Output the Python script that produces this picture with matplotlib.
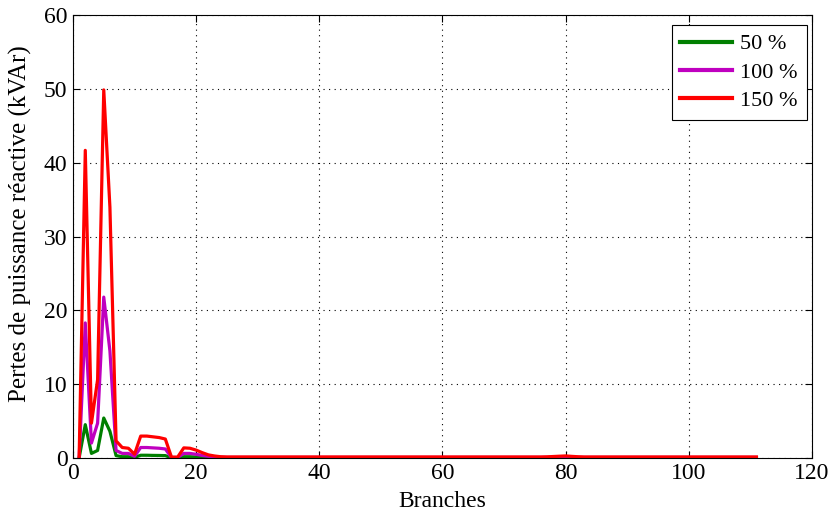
import matplotlib
matplotlib.use("Agg")
import matplotlib.pyplot as plt

plt.rcParams['font.family'] = ['Liberation Serif', 'DejaVu Serif']

# Reactive power losses per branch for three loading levels (kVAr)
loss_50 = [0.0, 4.5, 0.6, 1.0, 5.4, 3.6, 0.3, 0.15, 0.15, 0.05,
           0.35, 0.35, 0.33, 0.32, 0.3, 0.0, 0.0, 0.15, 0.15, 0.12,
           0.08, 0.05, 0.03, 0.02, 0.02, 0.02, 0.02, 0.02, 0.02, 0.02,
           0.02, 0.02, 0.02, 0.02, 0.02, 0.02, 0.02, 0.02, 0.02, 0.02,
           0.02, 0.02, 0.02, 0.02, 0.02, 0.02, 0.02, 0.02, 0.02, 0.02,
           0.02, 0.02, 0.02, 0.02, 0.02, 0.02, 0.02, 0.02, 0.02, 0.02,
           0.02, 0.02, 0.02, 0.02, 0.02, 0.02, 0.02, 0.02, 0.02, 0.02,
           0.02, 0.02, 0.02, 0.02, 0.02, 0.02, 0.02, 0.03, 0.04, 0.05,
           0.04, 0.03, 0.02, 0.02, 0.02, 0.02, 0.02, 0.02, 0.02, 0.02,
           0.02, 0.02, 0.02, 0.02, 0.02, 0.02, 0.02, 0.02, 0.02, 0.02,
           0.02, 0.02, 0.02, 0.02, 0.02, 0.02, 0.02, 0.02, 0.02, 0.02,
           0.02]
loss_100 = [0.0, 18.3, 2.0, 4.7, 21.8, 14.5, 1.0, 0.6, 0.6, 0.2,
            1.4, 1.4, 1.35, 1.3, 1.2, 0.05, 0.05, 0.6, 0.6, 0.48,
            0.32, 0.2, 0.12, 0.08, 0.06, 0.06, 0.06, 0.06, 0.06, 0.06,
            0.06, 0.06, 0.06, 0.06, 0.06, 0.06, 0.06, 0.06, 0.06, 0.06,
            0.06, 0.06, 0.06, 0.06, 0.06, 0.06, 0.06, 0.06, 0.06, 0.06,
            0.06, 0.06, 0.06, 0.06, 0.06, 0.06, 0.06, 0.06, 0.06, 0.06,
            0.06, 0.06, 0.06, 0.06, 0.06, 0.06, 0.06, 0.06, 0.06, 0.06,
            0.06, 0.06, 0.06, 0.06, 0.06, 0.06, 0.07, 0.09, 0.11, 0.13,
            0.1, 0.07, 0.06, 0.06, 0.06, 0.06, 0.06, 0.06, 0.06, 0.06,
            0.06, 0.06, 0.06, 0.06, 0.06, 0.06, 0.06, 0.06, 0.06, 0.06,
            0.06, 0.06, 0.06, 0.06, 0.06, 0.06, 0.06, 0.06, 0.06, 0.06,
            0.06]
loss_150 = [0.0, 41.7, 4.7, 10.6, 49.9, 34.0, 2.3, 1.4, 1.3, 0.5,
            2.95, 2.95, 2.85, 2.75, 2.55, 0.1, 0.1, 1.35, 1.3, 1.05,
            0.7, 0.4, 0.25, 0.15, 0.12, 0.12, 0.12, 0.12, 0.12, 0.12,
            0.12, 0.12, 0.12, 0.12, 0.12, 0.12, 0.12, 0.12, 0.12, 0.12,
            0.12, 0.12, 0.12, 0.12, 0.12, 0.12, 0.12, 0.12, 0.12, 0.12,
            0.12, 0.12, 0.12, 0.12, 0.12, 0.12, 0.12, 0.12, 0.12, 0.12,
            0.12, 0.12, 0.12, 0.12, 0.12, 0.12, 0.12, 0.12, 0.12, 0.12,
            0.12, 0.12, 0.12, 0.12, 0.12, 0.12, 0.14, 0.18, 0.22, 0.26,
            0.2, 0.15, 0.12, 0.12, 0.12, 0.12, 0.12, 0.12, 0.12, 0.12,
            0.12, 0.12, 0.12, 0.12, 0.12, 0.12, 0.12, 0.12, 0.12, 0.12,
            0.12, 0.12, 0.12, 0.12, 0.12, 0.12, 0.12, 0.12, 0.12, 0.12,
            0.12]
branches = list(range(1, len(loss_150) + 1))

series_labels = ['50 %', '100 %', '150 %']
series_colors = ['#007f00', '#bf00bf', '#ff0000']

fig = plt.figure(figsize=(8.33, 5.15), dpi=100)
ax = fig.add_axes([0.0876, 0.111, 0.887, 0.859])

for vals, lab, col in zip([loss_50, loss_100, loss_150], series_labels, series_colors):
    ax.plot(branches, vals, color=col, lw=2.3, label=lab)

ax.set_xlim(0, 120)
ax.set_ylim(0, 60)
ax.set_xticks([0, 20, 40, 60, 80, 100, 120])
ax.set_yticks([0, 10, 20, 30, 40, 50, 60])
ax.grid(True, color='black', linestyle=(0, (1, 4)), linewidth=0.8)
ax.tick_params(direction='in', labelsize=17, length=5, top=True, right=True, pad=4)
for s in ax.spines.values():
    s.set_linewidth(0.8)

ax.set_xlabel('Branches', fontsize=17, labelpad=5)
ax.set_ylabel('Pertes de puissance réactive (kVAr)', fontsize=18)
ax.yaxis.set_label_coords(-0.056, 0.53)

leg = ax.legend(loc='upper right', bbox_to_anchor=(0.9932, 0.9785),
                fontsize=16, frameon=True, fancybox=False,
                edgecolor='black', framealpha=1, handlelength=2.3,
                borderpad=0.4, labelspacing=0.35, handletextpad=0.4,
                borderaxespad=0.0)
leg.get_frame().set_linewidth(0.8)
for h in leg.get_lines():
    h.set_linewidth(3)

fig.savefig('out.png', dpi=100)
